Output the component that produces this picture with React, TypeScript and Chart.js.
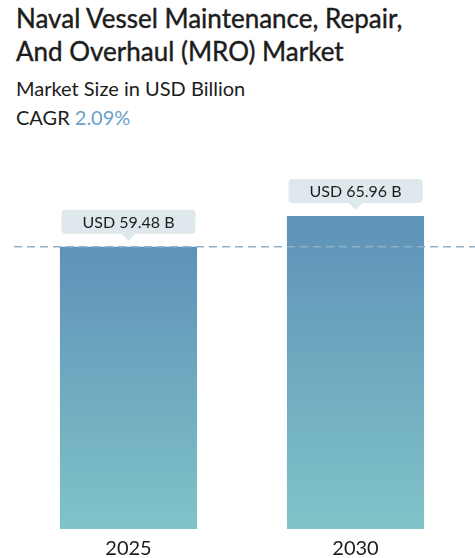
import { useEffect, useRef } from "react";
import { Chart, registerables } from "chart.js";

Chart.register(...registerables);

const years = ["2025", "2030"];
const marketSize = [59.48, 65.96];
const valueLabels = ["USD 59.48 B", "USD 65.96 B"];

const valueBoxes = {
  id: "valueBoxes",
  afterDatasetsDraw(chart: any) {
    const { ctx } = chart;
    const meta = chart.getDatasetMeta(0);
    ctx.save();
    ctx.font = "16px Lato";
    meta.data.forEach((bar: any, i: number) => {
      const text = valueLabels[i];
      const tw = ctx.measureText(text).width;
      const w = tw + 42;
      const h = 24;
      const x = bar.x - w / 2;
      const bottom = bar.y - 13;
      const y = bottom - h;
      ctx.fillStyle = "#dfe8ec";
      ctx.beginPath();
      ctx.roundRect(x, y, w, h, 4);
      ctx.fill();
      ctx.beginPath();
      ctx.moveTo(bar.x - 7, bottom);
      ctx.lineTo(bar.x + 7, bottom);
      ctx.lineTo(bar.x, bottom + 7);
      ctx.closePath();
      ctx.fill();
      ctx.fillStyle = "#1c1c1c";
      ctx.textAlign = "center";
      ctx.textBaseline = "middle";
      ctx.fillText(text, bar.x, y + h / 2 + 1);
    });
    ctx.restore();
  },
};

const baseLine = {
  id: "baseLine",
  afterDatasetsDraw(chart: any) {
    const { ctx } = chart;
    const y = chart.scales.y.getPixelForValue(marketSize[0]);
    ctx.save();
    ctx.strokeStyle = "#8fb0c8";
    ctx.lineWidth = 1.5;
    ctx.setLineDash([8, 5]);
    ctx.beginPath();
    ctx.moveTo(14, y);
    ctx.lineTo(chart.width, y);
    ctx.stroke();
    ctx.restore();
  },
};

function MarketChart() {
  const chartRef = useRef<HTMLCanvasElement>(null);
  const chartInstance = useRef<Chart | null>(null);

  useEffect(() => {
    if (!chartRef.current) return;
    if (chartInstance.current) chartInstance.current.destroy();
    const ctx = chartRef.current.getContext("2d");
    if (!ctx) return;

    chartInstance.current = new Chart(ctx, {
      type: "bar",
      data: {
        labels: years,
        datasets: [
          {
            data: marketSize,
            backgroundColor: (c: any) => {
              const chart = c.chart;
              if (!chart.chartArea || c.parsed == null) return "#6e9fbe";
              const top = chart.scales.y.getPixelForValue(c.parsed.y);
              const bottom = chart.chartArea.bottom;
              const g = chart.ctx.createLinearGradient(0, top, 0, bottom);
              g.addColorStop(0, "#5e92b8");
              g.addColorStop(1, "#80c3c8");
              return g;
            },
            barPercentage: 0.604,
            categoryPercentage: 1,
          },
        ],
      },
      options: {
        animation: false,
        responsive: true,
        maintainAspectRatio: false,
        layout: { padding: { left: 15, right: 6, top: 0, bottom: 0 } },
        plugins: {
          legend: { display: false },
          tooltip: { enabled: false },
        },
        scales: {
          x: {
            grid: { display: false, drawTicks: false },
            border: { display: false },
            afterFit: (scale: any) => {
              scale.height = 29;
            },
            ticks: {
              color: "#1c1c1c",
              padding: 10,
              font: { family: "Lato", size: 20, lineHeight: 1 },
            },
          },
          y: {
            display: false,
            min: 0,
            max: 82,
          },
        },
      },
      plugins: [baseLine, valueBoxes],
    });

    return () => {
      if (chartInstance.current) {
        chartInstance.current.destroy();
        chartInstance.current = null;
      }
    };
  }, []);

  return <canvas ref={chartRef} />;
}

export default function App() {
  const line = (top: number, size: number, stroke: number, text: any) => (
    <div
      style={{
        position: "absolute",
        left: 16,
        top,
        fontSize: size,
        fontWeight: 400,
        lineHeight: 1.2,
        whiteSpace: "nowrap",
        color: "#1c1c1c",
        WebkitTextStroke: stroke ? `${stroke}px #1c1c1c` : undefined,
      }}
    >
      {text}
    </div>
  );
  return (
    <div
      style={{
        position: "absolute",
        left: 0,
        top: 0,
        width: 475,
        height: 558,
        background: "#fff",
        fontFamily: "Lato, sans-serif",
        overflow: "hidden",
      }}
    >
      {line(3, 26, 0.4, "Naval Vessel Maintenance, Repair,")}
      {line(36, 26, 0.4, "And Overhaul (MRO) Market")}
      {line(76, 20, 0, "Market Size in USD Billion")}
      {line(105, 20, 0, <>CAGR <span style={{ color: "#6a9fc9" }}>2.09%</span></>)}
      <div style={{ position: "absolute", left: 0, top: 140, width: 475, height: 418 }}>
        <MarketChart />
      </div>
    </div>
  );
}
